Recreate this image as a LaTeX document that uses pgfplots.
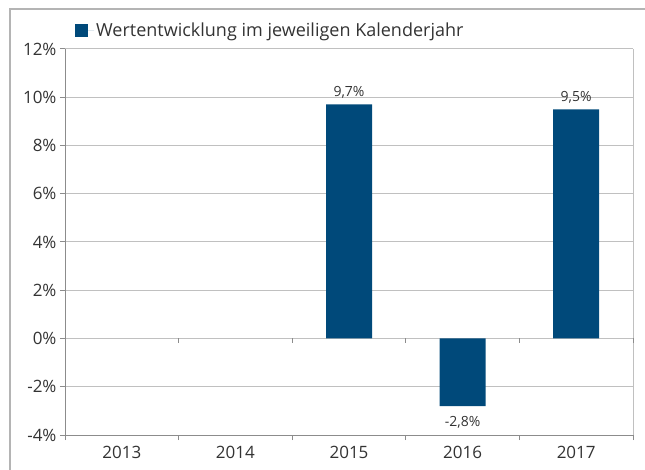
\documentclass[border=0pt]{standalone}
\usepackage{pgfplots}
\pgfplotsset{compat=1.18}
\usepackage{fontspec}
\setmainfont{Open Sans}
\definecolor{barblue}{HTML}{00497A}
\definecolor{txt}{HTML}{333333}
\definecolor{gridg}{HTML}{C0C0C0}
\definecolor{axg}{HTML}{8C8C8C}
\definecolor{frameg}{HTML}{B4B4B4}
\begin{document}
\begin{tikzpicture}
\path[use as bounding box] (0,0) rectangle (645bp,470bp);
\draw[frameg, line width=1.5bp] (10bp,0) -- (10bp,461bp) -- (646bp,461bp);
\begin{axis}[
  at={(65bp,35bp)}, anchor=south west,
  scale only axis, width=568bp, height=386bp,
  ymin=-4, ymax=12, ytick={-4,-2,...,12},
  xmin=-0.5, xmax=4.5,
  xtick={0,1,2,3,4},
  xticklabels={2013,2014,2015,2016,2017},
  minor xtick={-0.5,0.5,1.5,2.5,3.5,4.5},
  axis x line=bottom, axis y line=left,
  axis line style={-, axg, line width=1bp},
  x axis line style={axg},
  tick align=outside,
  major x tick style={draw=none},
  minor x tick style={axg, line width=1bp},
  minor tick length=5bp,
  major tick length=5bp,
  y tick style={axg, line width=1bp},
  ymajorgrids, grid style={gridg, line width=1bp},
  yticklabel={\pgfmathprintnumber{\tick}\%},
  /pgf/number format/assume math mode=true,
  ticklabel style={font=\fontsize{17bp}{20bp}\selectfont, text=txt},
  xticklabel style={yshift=-3bp},
  ybar, bar width=46bp,
  visualization depends on={rawy \as \rawy},
  nodes near coords={\pgfmathprintnumber[fixed,precision=1,fixed zerofill,use comma,assume math mode=true]{\pgfplotspointmeta}\%},
  nodes near coords align={vertical},
  every node near coord/.append style={font=\fontsize{14bp}{16bp}\selectfont, text=txt, inner ysep=6bp,
    yshift={ifthenelse(\rawy<0,-4,0)}},
  legend style={at={(rel axis cs:0,1)}, anchor=south west, xshift=7bp, yshift=7bp,
    draw=none, fill=none, font=\fontsize{18bp}{21bp}\selectfont, text=txt},
  legend image code/.code={\fill[barblue] (0bp,-6.5bp) rectangle (13bp,6.5bp); \path (0bp,0bp) -- (19bp,0bp);},
  clip=false,
]
\draw[gridg, line width=1bp] (rel axis cs:1,0) -- (rel axis cs:1,1);
\addplot[fill=barblue, draw=none] coordinates {(2,9.7) (3,-2.8) (4,9.5)};
\addlegendentry{Wertentwicklung im jeweiligen Kalenderjahr}
\foreach \xx in {0.5,1.5,2.5,3.5,4.5}{
  \edef\tmp{\noexpand\draw[axg, line width=1bp] (axis cs:\xx,0) -- ([yshift=-5bp]axis cs:\xx,0);}\tmp
}
\end{axis}
\end{tikzpicture}
\end{document}
